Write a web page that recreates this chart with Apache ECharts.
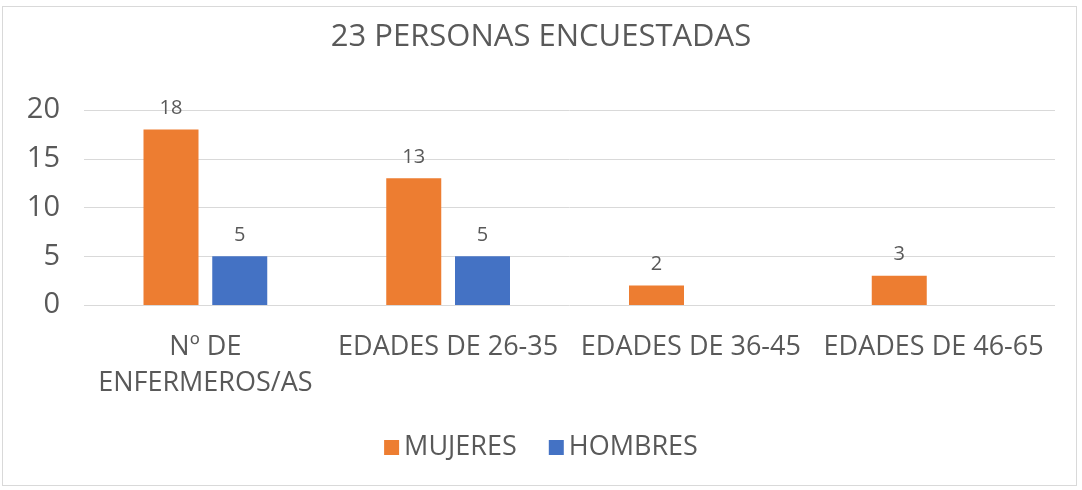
<!DOCTYPE html>
<html>
<head>
<meta charset="utf-8">
<script src="https://cdn.jsdelivr.net/npm/echarts@6/dist/echarts.min.js"></script>
<style>
  html, body { margin: 0; padding: 0; background: #fff; }
  #chart { width: 1082px; height: 490px; }
  .frame { position: absolute; left: 2px; top: 6px; width: 1075px; height: 480px; border: 1px solid #d9d9d9; box-sizing: border-box; pointer-events: none; }
</style>
</head>
<body>
<div id="chart"></div>
<div class="frame"></div>
<script>
var categories = ['Nº DE\nENFERMEROS/AS', 'EDADES DE 26-35', 'EDADES DE 36-45', 'EDADES DE 46-65'];
var mujeres = [18, 13, 2, 3];
var hombres = [5, 5, 0, 0];
var yTicks = [0, 5, 10, 15, 20];

var myChart = echarts.init(document.getElementById('chart'));
var txt = '#595959';
var font = '"Open Sans", "Noto Sans", sans-serif';

function barLabel() {
    return {
        show: true,
        position: 'top',
        distance: 11,
        color: txt,
        fontSize: 20,
        fontFamily: font,
        formatter: function (p) { return p.value ? p.value : ''; }
    };
}

var option = {
    animation: false,
    textStyle: { fontFamily: font },
    title: {
        text: '23 PERSONAS ENCUESTADAS',
        left: 'center',
        top: 17,
        textStyle: { color: txt, fontSize: 31, fontWeight: 'normal', fontFamily: font }
    },
    legend: {
        bottom: 24,
        left: 'center',
        itemWidth: 15,
        itemHeight: 15,
        itemGap: 32,
        icon: 'rect',
        textStyle: { color: txt, fontSize: 27, fontFamily: font },
        data: ['MUJERES', 'HOMBRES']
    },
    grid: { left: 84, right: 27, top: 110, bottom: 185 },
    xAxis: {
        type: 'category',
        data: categories,
        axisLine: { show: false },
        axisTick: { show: false },
        axisLabel: { color: txt, fontSize: 27, fontFamily: font, margin: 24, lineHeight: 36, interval: 0 }
    },
    yAxis: {
        type: 'value',
        min: yTicks[0],
        max: yTicks[yTicks.length - 1],
        interval: 5,
        axisLine: { show: false },
        axisTick: { show: false },
        axisLabel: { color: txt, fontSize: 29, fontFamily: font, margin: 24 },
        splitLine: { lineStyle: { color: '#d9d9d9', width: 1 } }
    },
    series: [
        {
            name: 'MUJERES',
            type: 'bar',
            data: mujeres,
            barWidth: 55,
            barGap: '25%',
            itemStyle: { color: '#ED7D31' },
            label: barLabel()
        },
        {
            name: 'HOMBRES',
            type: 'bar',
            data: hombres,
            barWidth: 55,
            itemStyle: { color: '#4472C4' },
            label: barLabel()
        }
    ]
};
myChart.setOption(option);
</script>
</body>
</html>
